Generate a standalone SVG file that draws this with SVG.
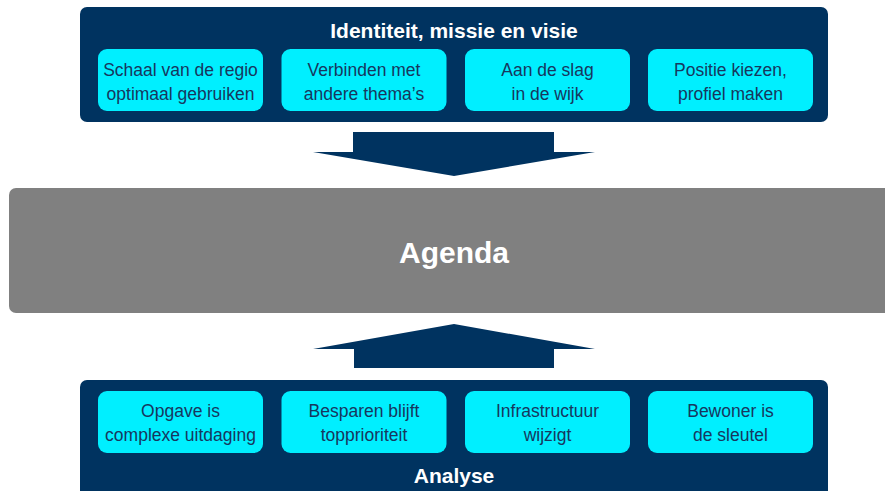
<svg xmlns="http://www.w3.org/2000/svg" width="885" height="491" viewBox="0 0 885 491">
<style>
.panel{fill:#003360}
.box{fill:#00EFFF}
.bt{font-family:"Liberation Sans",Arial,sans-serif;font-size:17.5px;fill:#17375E;text-anchor:middle}
.title{font-family:"Liberation Sans",Arial,sans-serif;font-size:21px;font-weight:bold;fill:#FFFFFF;text-anchor:middle}
.arrow{fill:#003360}
</style>
<rect width="885" height="491" fill="#FFFFFF"/>
<g id="top-panel">
<rect class="panel" x="80" y="7" width="748" height="115" rx="7"/>
<text class="title" x="454" y="38">Identiteit, missie en visie</text>
</g>
<g id="t1"><rect class="box" x="98" y="49" width="165" height="62" rx="9"/><text class="bt" x="180.5" y="76">Schaal van de regio</text><text class="bt" x="180.5" y="100">optimaal gebruiken</text></g>
<g id="t2"><rect class="box" x="281.5" y="49" width="165" height="62" rx="9"/><text class="bt" x="364" y="76">Verbinden met</text><text class="bt" x="364" y="100">andere thema’s</text></g>
<g id="t3"><rect class="box" x="465" y="49" width="165" height="62" rx="9"/><text class="bt" x="547.5" y="76">Aan de slag</text><text class="bt" x="547.5" y="100">in de wijk</text></g>
<g id="t4"><rect class="box" x="648" y="49" width="165" height="62" rx="9"/><text class="bt" x="730.5" y="76">Positie kiezen,</text><text class="bt" x="730.5" y="100">profiel maken</text></g>
<g id="agenda">
<rect x="9" y="188" width="890" height="125" rx="7" fill="#808080"/>
<text x="454" y="263" font-family="'Liberation Sans',Arial,sans-serif" font-size="30" font-weight="bold" fill="#FFFFFF" text-anchor="middle">Agenda</text>
</g>
<g id="connectors">
<polygon class="arrow" points="353,132 554,132 554,152 595,152 454,176 313,152 353,152"/>
<polygon class="arrow" points="354,368 554,368 554,349 595,349 454,324 313,349 354,349"/>
</g>
<g id="bottom-panel">
<rect class="panel" x="80" y="380" width="748" height="125" rx="7"/>
<text class="title" x="454" y="483">Analyse</text>
</g>
<g id="b1"><rect class="box" x="98" y="391" width="165" height="62" rx="9"/><text class="bt" x="180.5" y="417">Opgave is</text><text class="bt" x="180.5" y="441">complexe uitdaging</text></g>
<g id="b2"><rect class="box" x="281.5" y="391" width="165" height="62" rx="9"/><text class="bt" x="364" y="417">Besparen blijft</text><text class="bt" x="364" y="441">topprioriteit</text></g>
<g id="b3"><rect class="box" x="465" y="391" width="165" height="62" rx="9"/><text class="bt" x="547.5" y="417">Infrastructuur</text><text class="bt" x="547.5" y="441">wijzigt</text></g>
<g id="b4"><rect class="box" x="648" y="391" width="165" height="62" rx="9"/><text class="bt" x="730.5" y="417">Bewoner is</text><text class="bt" x="730.5" y="441">de sleutel</text></g>
</svg>
